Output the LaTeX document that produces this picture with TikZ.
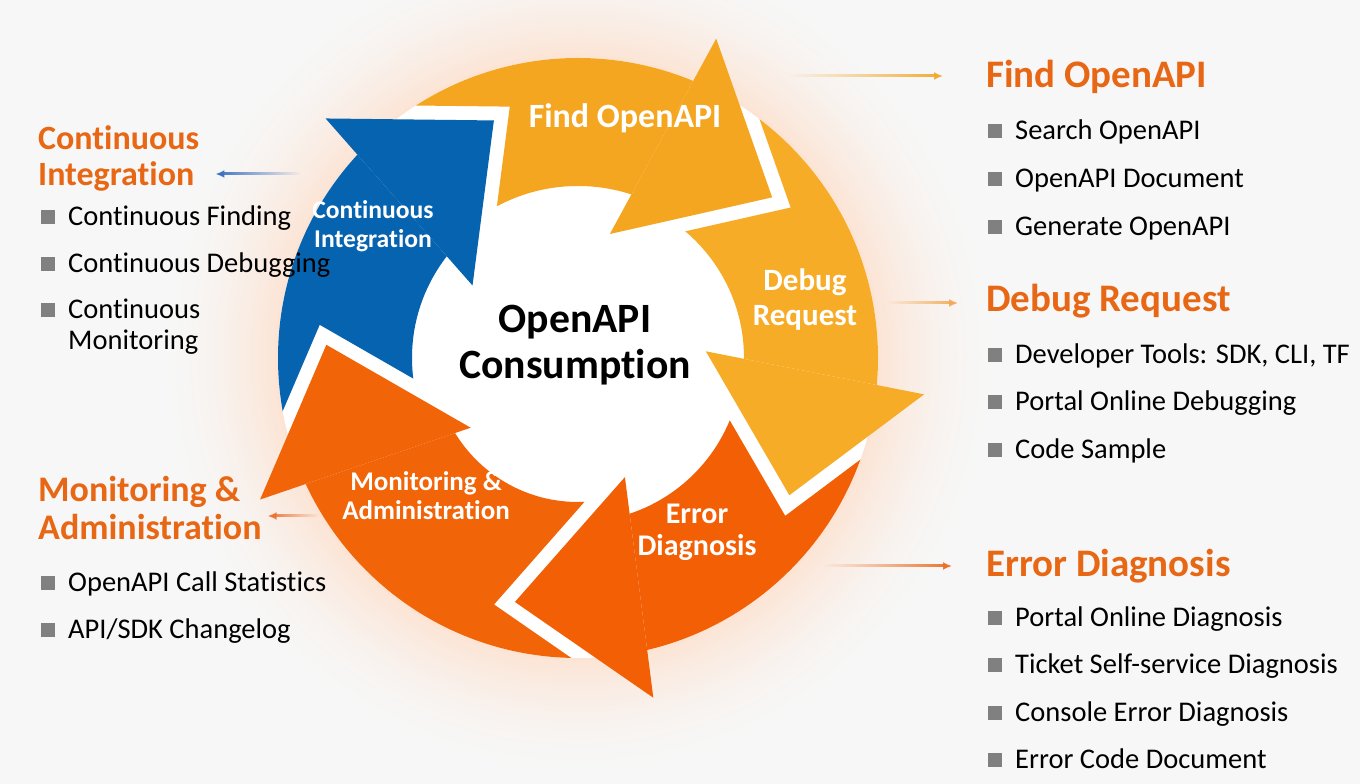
\documentclass[tikz,border=0pt]{standalone}
\usepackage{fontspec}
\setmainfont{Carlito}[Ligatures=NoCommon]
\usetikzlibrary{calc,arrows.meta,fadings}
\definecolor{bgc}{RGB}{247,247,247}
\definecolor{glowc}{RGB}{252,228,212}
\definecolor{findc}{RGB}{245,166,33}
\definecolor{debugc}{RGB}{247,172,40}
\definecolor{errc}{RGB}{242,95,4}
\definecolor{monc}{RGB}{242,100,8}
\definecolor{bluec}{RGB}{6,99,175}
\definecolor{headc}{RGB}{232,103,20}
\definecolor{bulletc}{RGB}{128,128,128}
\definecolor{fconn}{RGB}{242,170,50}
\definecolor{dconn}{RGB}{245,168,80}
\definecolor{econn}{RGB}{236,112,40}
\definecolor{cconn}{RGB}{60,110,190}
\definecolor{mconn}{RGB}{236,110,45}
\tikzfading[name=fadeE, left color=transparent!100, middle color=transparent!0, right color=transparent!0]
\tikzfading[name=fadeW, left color=transparent!0, middle color=transparent!0, right color=transparent!100]
% #1 previous tip angle, #2 own tip angle, #3 colour, #4 inner radius
\newcommand\cycarrow[4]{%
  \coordinate (Op) at ($(C)+(#1+27:348)$);
  \coordinate (Tp) at ($(C)+(#1:252)$);
  \coordinate (Ip) at ($(C)+(#1+36:128)$);
  \coordinate (Ok) at ($(C)+(#2+27:348)$);
  \coordinate (Tk) at ($(C)+(#2:252)$);
  \coordinate (Ik) at ($(C)+(#2+36:128)$);
  \coordinate (Opo) at ($(Op)!14pt!90:(Tp)$);
  \coordinate (Tpo) at ($(Tp)!14pt!-90:(Op)$);
  \coordinate (Tpi) at ($(Tp)!14pt!90:(Ip)$);
  \coordinate (Ipi) at ($(Ip)!14pt!-90:(Tp)$);
  \coordinate (Nn) at (intersection of Opo--Tpo and Ipi--Tpi);
  \begin{scope}
    \clip (Opo) -- (Nn) -- (Ipi) -- (Ik) -- (Ok) -- ($(C)+(#2+27:700)$)
      -- ($(C)+({(#1+#2)/2+27}:700)$) -- ($(C)+(#1+27:700)$) -- cycle;
    \fill[#3, even odd rule] (C) circle (300) (C) circle (#4);
  \end{scope}
  \fill[#3] (Ok) -- (Tk) -- (Ik) -- cycle;
}
\newcommand\bitem[4]{%
  \node[itemtxt] (#1) at (#2,#3) {#4};
  \node[bsq] (#1b) at ($(#1.base west)+(-20pt,9pt)$) {};
}
\tikzset{
  itemtxt/.style={anchor=base west, inner sep=0pt, text=black, font=\fontsize{28.5}{34}\selectfont},
  headtxt/.style={anchor=base west, inner sep=0pt, text=headc, font=\bfseries\fontsize{39}{44}\selectfont},
  bsq/.style={fill=bulletc, minimum size=14pt, inner sep=0pt},
  arrlbl/.style={text=white, align=center, inner sep=0pt},
  conn/.style={line width=3pt, -{Latex[length=9pt,width=8pt]}},
}
\begin{document}
\begin{tikzpicture}[x=1pt,y=1pt]
\useasboundingbox (0,0) rectangle (1360,784);
\fill[bgc] (0,0) rectangle (1360,784);
\coordinate (C) at (578,426);
\foreach \i in {0,...,60}{%
  \pgfmathsetmacro\rr{420-2*\i}%
  \pgfmathsetmacro\pp{100*(\i/60)^1.8}%
  \fill[glowc!\pp!bgc] (C) circle (\rr);
}
\fill[white] (C) circle (300);
\cycarrow{109.5}{39.6}{findc}{172}
\cycarrow{39.6}{-33}{debugc}{166}
\cycarrow{-33}{-104.5}{errc}{164}
\cycarrow{255.5}{177}{monc}{144}
\cycarrow{177}{109.5}{bluec}{166}
% labels on arrows
\node[arrlbl, font=\bfseries\fontsize{34}{38}\selectfont] (lFind) at (625,666) {Find OpenAPI};
\node[arrlbl, font=\bfseries\fontsize{31}{35}\selectfont] (lDebug) at (805,484) {Debug\\Request};
\node[arrlbl, font=\bfseries\fontsize{30}{32}\selectfont] (lErr) at (697,252) {Error\\Diagnosis};
\node[arrlbl, font=\bfseries\fontsize{27}{29}\selectfont] (lMon) at (426,288) {Monitoring \&\\Administration};
\node[arrlbl, font=\bfseries\fontsize{25.6}{29}\selectfont] (lCI) at (373,558) {Continuous\\Integration};
\node[arrlbl, text=black, font=\bfseries\fontsize{41.7}{46}\selectfont] (center) at (575,439) {OpenAPI\\Consumption};
% side headings
\node[headtxt] (findH) at (986,696) {Find OpenAPI};
\node[headtxt] (debugH) at (986,472) {Debug Request};
\node[headtxt] (errH) at (986,207) {Error Diagnosis};
\node[headtxt, font=\bfseries\fontsize{34}{40}\selectfont] (ciH1) at (38,634) {Continuous};
\node[headtxt, font=\bfseries\fontsize{34}{40}\selectfont] (ciH2) at (38,598) {Integration};
\node[headtxt, font=\bfseries\fontsize{36}{40}\selectfont] (monH1) at (38,282) {Monitoring \&};
\node[headtxt, font=\bfseries\fontsize{36}{40}\selectfont] (monH2) at (38,244) {Administration};
% items
\bitem{f1}{1015}{644}{Search OpenAPI}
\bitem{f2}{1015}{596}{OpenAPI Document}
\bitem{f3}{1015}{548}{Generate OpenAPI}
\bitem{d1}{1015}{420}{Developer Tools: SDK, CLI, TF}
\bitem{d2}{1015}{373}{Portal Online Debugging}
\bitem{d3}{1015}{325}{Code Sample}
\bitem{e1}{1015}{157}{Portal Online Diagnosis}
\bitem{e2}{1015}{110}{Ticket Self-service Diagnosis}
\bitem{e3}{1015}{62}{Console Error Diagnosis}
\bitem{e4}{1015}{15}{Error Code Document}
\bitem{c1}{68}{558}{Continuous Finding}
\bitem{c2}{68}{511}{Continuous Debugging}
\bitem{c3}{68}{465}{Continuous}
\node[itemtxt] (c3l2) at (68,434) {Monitoring};
\bitem{m1}{68}{192}{OpenAPI Call Statistics}
\bitem{m2}{68}{145}{API/SDK Changelog}
% connectors
\coordinate (fS) at (790,708);
\coordinate (dS) at (887,481);
\coordinate (eS) at (824,218);
\coordinate (cS) at (300,610);
\coordinate (mS) at (318,268);
\draw[conn, draw=fconn, path fading=fadeE] (fS) -- ($(findH.west |- fS)+(-43pt,0)$);
\draw[conn, draw=dconn, path fading=fadeE] (dS) -- ($(debugH.west |- dS)+(-28pt,0)$);
\draw[conn, draw=econn, path fading=fadeE] (eS) -- ($(errH.west |- eS)+(-34pt,0)$);
\draw[conn, draw=cconn, path fading=fadeW] (cS) -- ($(ciH2.east |- cS)+(21pt,0)$);
\draw[conn, draw=mconn, path fading=fadeW] (mS) -- ($(monH2.east |- mS)+(6pt,0)$);
\end{tikzpicture}
\end{document}
